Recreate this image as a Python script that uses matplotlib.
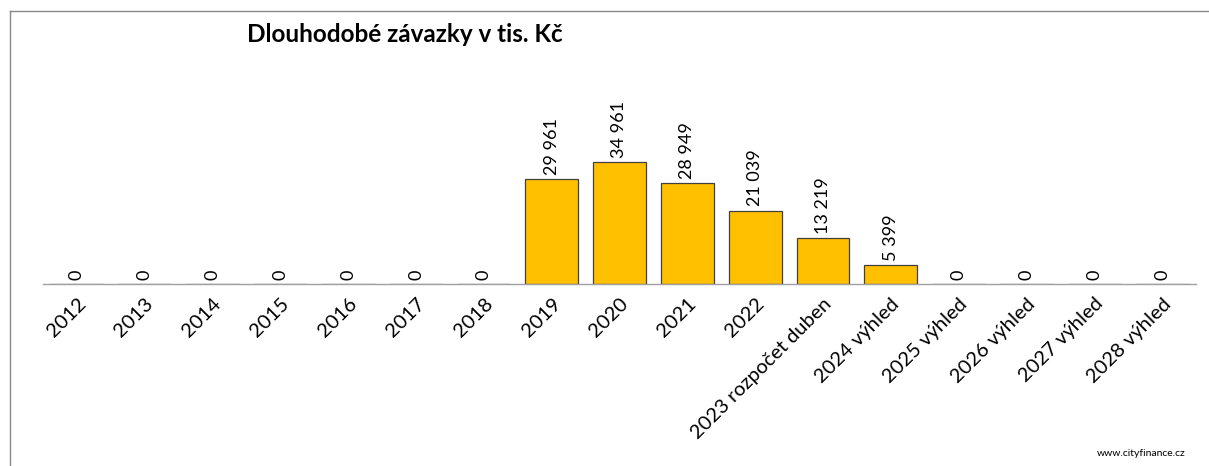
import matplotlib
matplotlib.use("Agg")
import matplotlib.pyplot as plt
from matplotlib.lines import Line2D

plt.rcParams['font.family'] = ['Lato', 'DejaVu Sans']

# Long-term liabilities, thousands CZK
years = ['2012', '2013', '2014', '2015', '2016', '2017', '2018', '2019',
         '2020', '2021', '2022', '2023 rozpočet duben', '2024 výhled',
         '2025 výhled', '2026 výhled', '2027 výhled', '2028 výhled']
liabilities = [0, 0, 0, 0, 0, 0, 0, 29961, 34961, 28949, 21039, 13219,
               5399, 0, 0, 0, 0]


def fmt(v):
    # thousands separated by a space
    return f"{v:,}".replace(",", " ")


def main():
    fig = plt.figure(figsize=(12.09, 4.66), dpi=100)
    W, H = 1209, 466

    # plot area in pixels: baseline at y=284, 0.00349 px per unit
    left, right, base = 43, 1196, 284
    ymax = 70000
    height = ymax * 0.00349
    ax = fig.add_axes([left / W, 1 - base / H, (right - left) / W, height / H])

    x = list(range(len(years)))
    ax.bar(x, liabilities, width=0.78, color='#FFC000',
           edgecolor='#404040', linewidth=0.9, zorder=2)

    for xi, v in zip(x, liabilities):
        ax.annotate(fmt(v), (xi, v), xytext=(0, 3), textcoords='offset points',
                    rotation=90, ha='center', va='bottom', fontsize=13,
                    color='#000000')

    ax.set_xlim(-0.5, len(years) - 0.5)
    ax.set_ylim(0, ymax)
    ax.set_yticks([])
    ax.set_xticks(x)
    ax.set_xticklabels(years, rotation=45, ha='right', rotation_mode='anchor',
                       fontsize=14.5)
    ax.tick_params(axis='x', length=0, pad=8)
    for s in ['top', 'right', 'left']:
        ax.spines[s].set_visible(False)
    ax.spines['bottom'].set_color('#a0a0a0')
    ax.spines['bottom'].set_linewidth(1.0)

    fig.text(247 / W, 1 - 35 / H, 'Dlouhodobé závazky v tis. Kč',
             fontsize=17.5, fontweight='bold', ha='left', va='center')
    fig.text(1097 / W, 1 - 453 / H, 'www.cityfinance.cz', fontsize=7.5,
             ha='left', va='center')

    # chart border (top and left edges)
    fig.add_artist(Line2D([9.5 / W, 1.0], [1 - 10.5 / H] * 2,
                          transform=fig.transFigure, color='#888888', lw=1))
    fig.add_artist(Line2D([9.5 / W] * 2, [0, 1 - 10.5 / H],
                          transform=fig.transFigure, color='#888888', lw=1))

    fig.savefig('out.png', dpi=100)


if __name__ == '__main__':
    main()
